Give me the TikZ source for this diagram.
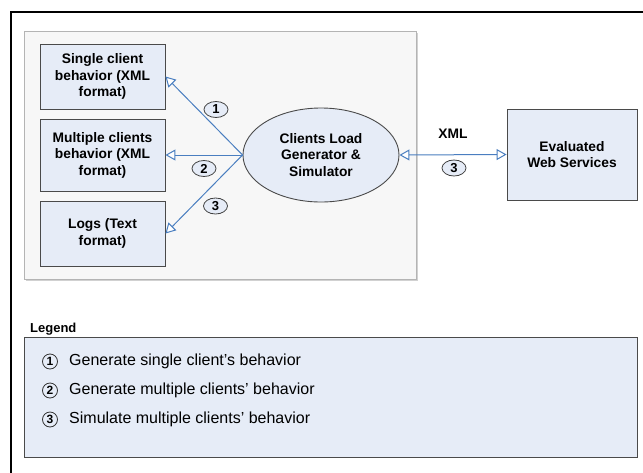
\documentclass[tikz,border=0pt]{standalone}
\usepackage{fontspec}
\setmainfont{Liberation Sans}
\usetikzlibrary{arrows.meta,shapes.geometric}
\definecolor{boxfill}{HTML}{E6ECF7}
\definecolor{boxline}{HTML}{4A4A4A}
\definecolor{panelfill}{HTML}{F7F7F7}
\definecolor{panelline}{HTML}{B4B4B4}
\definecolor{arrowblue}{HTML}{4A7EC0}
\begin{document}
\begin{tikzpicture}[x=1pt,y=-1pt,
  box/.style={draw=boxline, fill=boxfill, line width=0.9pt, align=center,
    font=\fontsize{13.8}{16.5}\selectfont\bfseries, inner sep=0pt},
  panel/.style={draw=panelline, fill=panelfill, line width=0.8pt, inner sep=0pt},
  num/.style={ellipse, draw=black!75, fill=boxfill, line width=0.8pt, inner sep=0pt,
    minimum width=24pt, minimum height=16pt, font=\fontsize{13}{13}\selectfont\bfseries},
  lnum/.style={circle, draw=black!80, line width=0.8pt, inner sep=0pt,
    minimum size=15pt, font=\fontsize{12}{12}\selectfont\bfseries},
  ltext/.style={anchor=west, inner sep=0pt, font=\fontsize{16}{16}\selectfont},
  arr/.style={draw=arrowblue, line width=1pt,
    -{Triangle[width=11pt,length=10pt,fill=white]}},
  arrb/.style={draw=arrowblue, line width=1pt,
    {Triangle[width=11pt,length=10pt,fill=white]}-{Triangle[width=11pt,length=10pt,fill=white]}}
]
\useasboundingbox (0,0) rectangle (643,472);
\fill[white] (0,0) rectangle (643,472);
\draw[line width=2pt] (11,473) -- (11,12) -- (644,12);
% panel with light shadow
\fill[black!18] (26,33) rectangle (418,281);
\node[panel, minimum width=392pt, minimum height=248pt] (panel) at (220,155) {};
% left boxes
\node[box, minimum width=125pt, minimum height=65pt] (single) at (102.5,76.5)
  {Single client\\behavior (XML\\format)};
\node[box, minimum width=125pt, minimum height=72pt] (multi) at (102.5,155)
  {Multiple clients\\behavior (XML\\format)};
\node[box, minimum width=125pt, minimum height=65pt] (logs) at (102.5,233.5)
  {Logs (Text\\format)};
% ellipse
\node[ellipse, draw=boxline, fill=boxfill, line width=0.9pt, align=center,
  font=\fontsize{13.8}{16.5}\selectfont\bfseries, inner sep=0pt,
  minimum width=156pt, minimum height=94pt] (gen) at (321,155)
  {Clients Load\\Generator \&\\Simulator};
% web services
\node[box, minimum width=130pt, minimum height=91pt] (web) at (572,154.5)
  {Evaluated\\Web Services};
% arrows
\coordinate (hub) at (gen.west);
\draw[arr] (hub) -- (single.east);
\draw[arr] (hub) -- (multi.east);
\draw[arr] (hub) -- (logs.east);
\draw[arrb] (gen.east) -- (web.west);
% numbered labels
\node[num] (n1) at (216,109.5) {1};
\node[num] (n2) at (204,168.5) {2};
\node[num] (n3) at (215.5,206) {3};
\node[num] (n3b) at (454,168) {3};
\node[font=\fontsize{13.8}{13.8}\selectfont\bfseries, inner sep=0pt] (xml) at (453,134) {XML};
% legend
\node[anchor=west, inner sep=0pt, font=\fontsize{13}{13}\selectfont\bfseries] (legt) at (30,329) {Legend};
\node[draw=boxline, fill=boxfill, line width=0.9pt, inner sep=0pt,
  minimum width=613pt, minimum height=120pt] (legend) at (330.5,397) {};
\node[lnum] (l1) at (50,361.5) {1};
\node[lnum] (l2) at (50,390.5) {2};
\node[lnum] (l3) at (50,419.5) {3};
\node[ltext] (t1) at (69,361.5) {Generate single client’s behavior};
\node[ltext] (t2) at (69,390.5) {Generate multiple clients’ behavior};
\node[ltext] (t3) at (69,419.5) {Simulate multiple clients’ behavior};
\end{tikzpicture}
\end{document}
